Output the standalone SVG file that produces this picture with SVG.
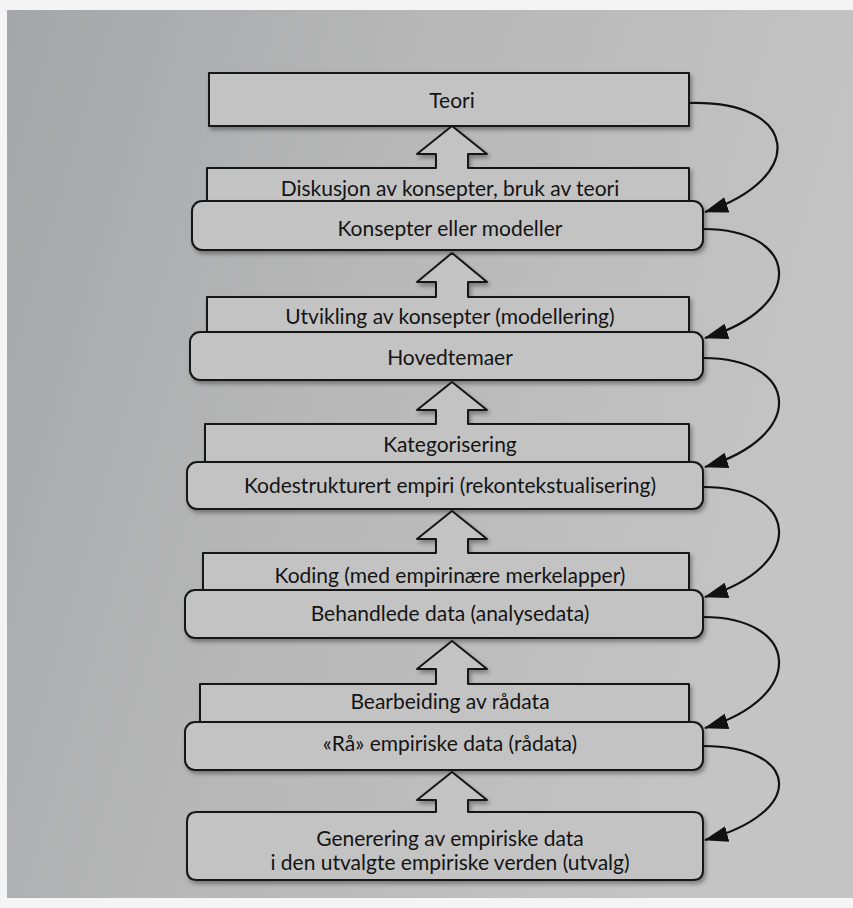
<svg xmlns="http://www.w3.org/2000/svg" width="853" height="908" viewBox="0 0 853 908">
<defs>
<linearGradient id="bg" x1="0" y1="0" x2="1" y2="0.3">
<stop offset="0" stop-color="#a4a6a9"/>
<stop offset="0.45" stop-color="#b7b7b7"/>
<stop offset="1" stop-color="#c4c4c4"/>
</linearGradient>
<filter id="sh" x="-5%" y="-20%" width="110%" height="150%">
<feDropShadow dx="2" dy="3" stdDeviation="2" flood-color="#000" flood-opacity="0.35"/>
</filter>
<marker id="ah" viewBox="0 0 24 16" refX="23" refY="8" markerWidth="24" markerHeight="16" markerUnits="userSpaceOnUse" orient="auto">
<path d="M0,0 L24,8 L0,16 Z" fill="#111"/>
</marker>
<style>
.box{fill:#c3c3c3;stroke:#161616;stroke-width:2;stroke-linejoin:round}
.t{font-family:Lato,"Noto Sans","Liberation Sans",sans-serif;font-size:21px;fill:#141414;text-anchor:middle}
.c{fill:none;stroke:#111;stroke-width:2.2;marker-end:url(#ah)}
</style>
</defs>
<rect width="853" height="908" fill="#f4f4f4"/>
<rect x="7" y="10" width="846" height="888" fill="url(#bg)"/>

<g id="teori">
<rect class="box" x="209" y="73" width="480" height="53" filter="url(#sh)"/>
<text class="t" x="452" y="108">Teori</text>
</g>

<g id="diskusjon">
<path class="box" filter="url(#sh)" d="M207,208 V168 H436 V154 H417 L452,126 L487,154 H468 V168 H689 V208"/>
<text class="t" x="450" y="196">Diskusjon av konsepter, bruk av teori</text>
</g>
<g id="konsepter">
<rect class="box" x="192" y="201" width="511" height="49" rx="10" filter="url(#sh)"/>
<text class="t" x="450" y="236">Konsepter eller modeller</text>
</g>

<g id="utvikling">
<path class="box" filter="url(#sh)" d="M207,337 V297 H436 V282 H417 L452,253 L487,282 H468 V297 H689 V337"/>
<text class="t" x="450" y="324">Utvikling av konsepter (modellering)</text>
</g>
<g id="hovedtemaer">
<rect class="box" x="190" y="332" width="513" height="48" rx="10" filter="url(#sh)"/>
<text class="t" x="450" y="365">Hovedtemaer</text>
</g>

<g id="kategorisering">
<path class="box" filter="url(#sh)" d="M205,467 V424 H436 V410 H417 L452,382 L487,410 H468 V424 H689 V467"/>
<text class="t" x="450" y="452">Kategorisering</text>
</g>
<g id="kodestrukturert">
<rect class="box" x="187" y="462" width="516" height="47" rx="10" filter="url(#sh)"/>
<text class="t" x="450" y="493">Kodestrukturert empiri (rekontekstualisering)</text>
</g>

<g id="koding">
<path class="box" filter="url(#sh)" d="M203,595 V553 H436 V539 H417 L452,511 L487,539 H468 V553 H689 V595"/>
<text class="t" x="450" y="583">Koding (med empirinære merkelapper)</text>
</g>
<g id="behandlede">
<rect class="box" x="185" y="590" width="518" height="48" rx="10" filter="url(#sh)"/>
<text class="t" x="450" y="621">Behandlede data (analysedata)</text>
</g>

<g id="bearbeiding">
<path class="box" filter="url(#sh)" d="M200,727 V684 H436 V669 H417 L452,641 L487,669 H468 V684 H689 V727"/>
<text class="t" x="450" y="709">Bearbeiding av rådata</text>
</g>
<g id="raa">
<rect class="box" x="185" y="722" width="518" height="48" rx="10" filter="url(#sh)"/>
<text class="t" x="450" y="751">«Rå» empiriske data (rådata)</text>
</g>

<g id="generering">
<path class="box" filter="url(#sh)" d="M197,812 H436 V800 H417 L452,772 L487,800 H468 V812 H693 Q703,812 703,822 V870 Q703,880 693,880 H197 Q187,880 187,870 V822 Q187,812 197,812 Z"/>
<text class="t" x="450" y="846">Generering av empiriske data</text>
<text class="t" x="450" y="870">i den utvalgte empiriske verden (utvalg)</text>
</g>

<g id="connectors">
<path class="c" d="M689,103 C800,100 808,178 705,212"/>
<path class="c" d="M703,229 C800,229 808,307 705,338"/>
<path class="c" d="M703,358 C800,358 808,436 705,467"/>
<path class="c" d="M703,487 C800,487 808,566 705,597"/>
<path class="c" d="M703,617 C800,617 808,697 705,728"/>
<path class="c" d="M703,746 C800,746 808,812 705,840"/>
</g>
</svg>
